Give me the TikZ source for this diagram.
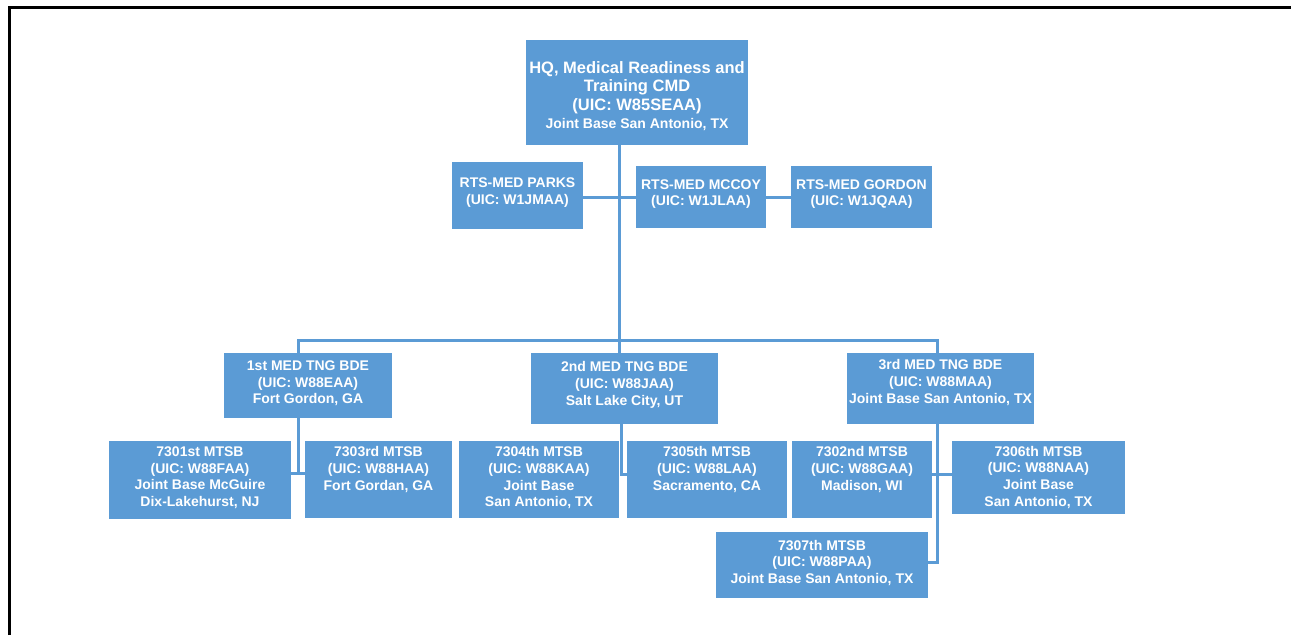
\documentclass[tikz,border=0pt]{standalone}
\usepackage{fontspec}
\setmainfont{Liberation Sans}
\usetikzlibrary{positioning,calc}
\definecolor{orgblue}{HTML}{5B9BD5}

\begin{document}
\begin{tikzpicture}[x=1pt,y=-1pt,
    unitbox/.style={rectangle, fill=orgblue, inner sep=0pt},
    unittext/.style={inner sep=0pt, align=center, text=white, font=\fontsize{14}{16.7}\selectfont\bfseries},
    link/.style={draw=orgblue, line width=3pt}]
  \useasboundingbox (0,0) rectangle (1291,635);
  % frame
  \draw[line width=2.5pt] (9.5,635) -- (9.5,7.5) -- (1291,7.5);

  % HQ
  \node[unitbox, minimum width=222pt, minimum height=105pt] (hq) at (637,92.5) {};
  \node[unittext, font=\fontsize{16.5}{18.5}\selectfont\bfseries, below=21.5pt of hq.north] (hq-txt)
    {HQ, Medical Readiness and\\Training CMD\\(UIC: W85SEAA)\\\fontsize{14}{16.7}\selectfont Joint Base San Antonio, TX};

  % RTS-MED
  \node[unitbox, minimum width=131pt, minimum height=67pt] (parks) at (517.5,195.5) {};
  \node[unittext, below=16pt of parks.north] (parks-txt) {RTS-MED PARKS\\(UIC: W1JMAA)};
  \node[unitbox, minimum width=130pt, minimum height=62pt] (mccoy) at (701,197) {};
  \node[unittext, below=13.3pt of mccoy.north] (mccoy-txt) {RTS-MED MCCOY\\(UIC: W1JLAA)};
  \node[unitbox, minimum width=141pt, minimum height=62pt] (gordon) at (861.5,197) {};
  \node[unittext, below=13.3pt of gordon.north] (gordon-txt) {RTS-MED GORDON\\(UIC: W1JQAA)};

  % brigades
  \node[unitbox, minimum width=168pt, minimum height=65pt] (bde1) at (308,385.5) {};
  \node[unittext, below=7.7pt of bde1.north] (bde1-txt) {1st MED TNG BDE\\(UIC: W88EAA)\\Fort Gordon, GA};
  \node[unitbox, minimum width=187pt, minimum height=71pt] (bde2) at (624.5,388.5) {};
  \node[unittext, below=8.5pt of bde2.north] (bde2-txt) {2nd MED TNG BDE\\(UIC: W88JAA)\\Salt Lake City, UT};
  \node[unitbox, minimum width=187pt, minimum height=71pt] (bde3) at (940.5,388.5) {};
  \node[unittext, below=6.5pt of bde3.north] (bde3-txt) {3rd MED TNG BDE\\(UIC: W88MAA)\\Joint Base San Antonio, TX};

  % battalions
  \node[unitbox, minimum width=182pt, minimum height=78pt] (m7301) at (200,480) {};
  \node[unittext, below=5.7pt of m7301.north] (m7301-txt) {7301st MTSB\\(UIC: W88FAA)\\Joint Base McGuire\\Dix-Lakehurst, NJ};
  \node[unitbox, minimum width=147pt, minimum height=77pt] (m7303) at (378.5,479.5) {};
  \node[unittext, below=5.7pt of m7303.north] (m7303-txt) {7303rd MTSB\\(UIC: W88HAA)\\Fort Gordan, GA};
  \node[unitbox, minimum width=160pt, minimum height=77pt] (m7304) at (539,479.5) {};
  \node[unittext, below=5.7pt of m7304.north] (m7304-txt) {7304th MTSB\\(UIC: W88KAA)\\Joint Base\\San Antonio, TX};
  \node[unitbox, minimum width=160pt, minimum height=77pt] (m7305) at (707,479.5) {};
  \node[unittext, below=5.7pt of m7305.north] (m7305-txt) {7305th MTSB\\(UIC: W88LAA)\\Sacramento, CA};
  \node[unitbox, minimum width=140pt, minimum height=77pt] (m7302) at (862,479.5) {};
  \node[unittext, below=5.7pt of m7302.north] (m7302-txt) {7302nd MTSB\\(UIC: W88GAA)\\Madison, WI};
  \node[unitbox, minimum width=173pt, minimum height=73pt] (m7306) at (1038.5,477.5) {};
  \node[unittext, below=5pt of m7306.north] (m7306-txt) {7306th MTSB\\(UIC: W88NAA)\\Joint Base\\San Antonio, TX};
  \node[unitbox, minimum width=212pt, minimum height=66pt] (m7307) at (822,565) {};
  \node[unittext, below=8pt of m7307.north] (m7307-txt) {7307th MTSB\\(UIC: W88PAA)\\Joint Base San Antonio, TX};

  % connectors
  \coordinate (trunk) at (619,340);
  \coordinate (bus1) at (298,340);
  \coordinate (bus3) at (937,340);
  \draw[link] (hq.south -| trunk) -- (bde2.north -| trunk);
  \draw[link] (mccoy.west -| parks.east) -- (mccoy.west);
  \draw[link] (mccoy.east) -- (gordon.west);
  \draw[link] (bus1 |- bde1.north) -- (bus1) -- (bus3) -- (bus3 |- bde3.north);

  \coordinate (fork1) at (298,473);
  \draw[link] (bde1.south -| fork1) -- (fork1);
  \draw[link] (m7301.east |- fork1) -- (m7303.west |- fork1);

  \coordinate (fork2) at (621,474);
  \draw[link] (bde2.south -| fork2) -- (fork2) -- (m7305.west |- fork2);

  \coordinate (fork3) at (937,474);
  \coordinate (fork3b) at (937,562);
  \draw[link] (bde3.south -| fork3) -- (fork3b) -- (m7307.east |- fork3b);
  \draw[link] (m7302.east |- fork3) -- (m7306.west |- fork3);
\end{tikzpicture}
\end{document}
